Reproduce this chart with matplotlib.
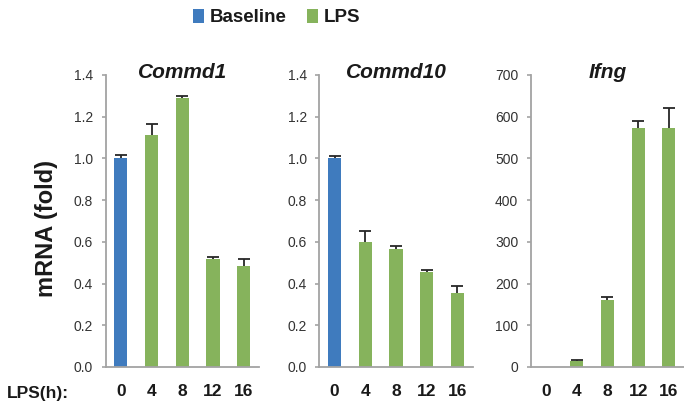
import matplotlib
matplotlib.use("Agg")
import matplotlib.pyplot as plt
from matplotlib.patches import Patch
import numpy as np

plt.rcParams['font.family'] = ['Liberation Sans', 'DejaVu Sans']

# Time points (hours after LPS)
hours = ["0", "4", "8", "12", "16"]

# Commd1 expression (fold) and upper SEM
commd1_vals = [1.00, 1.11, 1.29, 0.517, 0.483]
commd1_err = [0.015, 0.057, 0.011, 0.011, 0.034]

# Commd10 expression (fold) and upper SEM
commd10_vals = [1.00, 0.600, 0.566, 0.456, 0.355]
commd10_err = [0.012, 0.054, 0.014, 0.011, 0.035]

# Ifng expression (fold) and upper SEM
ifng_vals = [1.0, 13.6, 160.0, 573.0, 573.0]
ifng_err = [0.0, 2.5, 7.5, 16.0, 49.0]

genes = ["Commd1", "Commd10", "Ifng"]
panels = [
    (commd1_vals, commd1_err, np.arange(0, 1.41, 0.2), "{:.1f}", 1.4),
    (commd10_vals, commd10_err, np.arange(0, 1.41, 0.2), "{:.1f}", 1.4),
    (ifng_vals, ifng_err, np.arange(0, 701, 100), "{:.0f}", 700),
]

BLUE = "#3F7BBE"
GREEN = "#86B35C"
AXIS_GREY = "#A3A3A3"

W, H = 684, 407
fig = plt.figure(figsize=(W / 100, H / 100), dpi=100)

lefts = [105.5, 319.3, 530.7]
ax_w = 153.5
ax_bottom = 40.0
ax_h = 292.0

for left, gene, (vals, errs, yticks, fmt, ymax) in zip(lefts, genes, panels):
    ax = fig.add_axes([left / W, ax_bottom / H, ax_w / W, ax_h / H])
    x = np.arange(len(hours))
    vals = np.asarray(vals)
    errs = np.asarray(errs)
    colors = [BLUE] + [GREEN] * (len(hours) - 1)
    ax.bar(x, vals, width=0.43, color=colors, zorder=2)

    # upper error bars only, skipped where there is no spread
    has_err = errs > 0
    eb = ax.errorbar(x[has_err], vals[has_err],
                     yerr=[np.zeros(has_err.sum()), errs[has_err]], fmt='none',
                     ecolor="#262626", elinewidth=1.3, capsize=4.2,
                     capthick=1.3, zorder=3)
    eb[1][0].set_visible(False)

    ax.set_xlim(-0.5, 4.5)
    ax.set_ylim(0, ymax)
    ax.set_yticks(yticks)
    ax.set_yticklabels([fmt.format(t) for t in yticks])
    ax.set_xticks(x)
    ax.set_xticklabels(hours, fontsize=12.5, fontweight='bold', color="#1a1a1a")

    for s in ("top", "right"):
        ax.spines[s].set_visible(False)
    for s in ("left", "bottom"):
        ax.spines[s].set_color(AXIS_GREY)
        ax.spines[s].set_linewidth(1.3)
    ax.tick_params(axis='y', direction='out', length=3, width=1.2,
                   color=AXIS_GREY, labelsize=10, labelcolor="#333333", pad=6)
    ax.tick_params(axis='x', length=0, pad=12.5)
    ax.set_title(gene, fontsize=15, fontweight='bold', fontstyle='italic',
                 y=1.0, pad=-2.2, color="#1a1a1a")

fig.text(46.7 / W, 1 - 228.5 / H, "mRNA (fold)", rotation=90, fontsize=17,
         fontweight='bold', ha='center', va='center', color="#1a1a1a")
fig.text(7 / W, 1 - 397.7 / H, "LPS(h):", fontsize=12.5, fontweight='bold',
         ha='left', va='baseline', color="#1a1a1a")

handles = [Patch(facecolor=BLUE, edgecolor='none'),
           Patch(facecolor=GREEN, edgecolor='none')]
fig.legend(handles, ["Baseline", "LPS"], loc='center',
           bbox_to_anchor=(276.5 / W, 1 - 17.5 / H), ncol=2, frameon=False,
           prop={'weight': 'bold', 'size': 13.5}, handlelength=0.6,
           handleheight=0.75, handletextpad=0.3, columnspacing=1.1,
           borderpad=0, labelcolor="#1a1a1a")

fig.savefig("out.png", dpi=100)
